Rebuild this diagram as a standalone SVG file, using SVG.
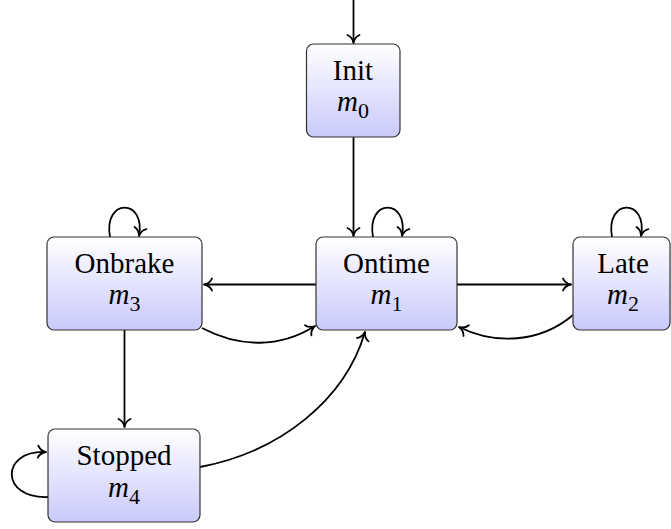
<svg xmlns="http://www.w3.org/2000/svg" width="671" height="529" viewBox="0 0 671 529">
<defs>
<linearGradient id="g" x1="0" y1="0" x2="0" y2="1">
<stop offset="0" stop-color="#ffffff"/>
<stop offset="1" stop-color="#c9c9fb"/>
</linearGradient>
<marker id="arr" markerUnits="userSpaceOnUse" markerWidth="16" markerHeight="16" viewBox="-10 -8 12 16" refX="0" refY="0" orient="auto">
<path d="M -8,-6 C -6.5,-2.5 -3,-0.6 0,0 C -3,0.6 -6.5,2.5 -8,6" fill="none" stroke="#000" stroke-width="1.8" stroke-linecap="round" stroke-linejoin="round"/>
</marker>
</defs>
<rect width="671" height="529" fill="#fff"/>
<g id="connectors" fill="none" stroke="#000" stroke-width="1.8" marker-end="url(#arr)">
<path d="M353.5,0 L353.5,43"/>
<path d="M353.5,137 L353.5,236"/>
<path d="M373,237 C 366,198 409,198 402,236"/>
<path d="M316,284.5 L204,284.5"/>
<path d="M202,328 C 240,348 280,348 315,326"/>
<path d="M457,284.5 L571,284.5"/>
<path d="M573,315 C 540,343 495,345 459,327"/>
<path d="M612,237 C 605,198 648,198 641,236"/>
<path d="M110,237 C 103,198 146,198 139,236"/>
<path d="M124.5,330 L124.5,427"/>
<path d="M48,497 C 0,499 0,450 46,452"/>
<path d="M200,467 C 280,452 345,400 365,332"/>
</g>
<g id="init">
<rect fill="url(#g)" stroke="#333" stroke-width="1.2" x="306.5" y="44" width="93.5" height="93" rx="7"/>
<text font-family="Liberation Serif" font-size="29" text-anchor="middle" x="353" y="79.5">Init</text>
<text font-family="Liberation Serif" font-size="29" text-anchor="middle" x="353" y="111"><tspan font-style="italic">m</tspan><tspan font-size="22" dy="7">0</tspan></text>
</g>
<g id="ontime">
<rect fill="url(#g)" stroke="#333" stroke-width="1.2" x="316" y="237" width="141" height="93" rx="7"/>
<text font-family="Liberation Serif" font-size="29" text-anchor="middle" x="386.5" y="272.5">Ontime</text>
<text font-family="Liberation Serif" font-size="29" text-anchor="middle" x="386.5" y="304"><tspan font-style="italic">m</tspan><tspan font-size="22" dy="7">1</tspan></text>
</g>
<g id="late">
<rect fill="url(#g)" stroke="#333" stroke-width="1.2" x="573" y="237" width="97" height="93" rx="7"/>
<text font-family="Liberation Serif" font-size="29" text-anchor="middle" x="623" y="272.5">Late</text>
<text font-family="Liberation Serif" font-size="29" text-anchor="middle" x="623" y="304"><tspan font-style="italic">m</tspan><tspan font-size="22" dy="7">2</tspan></text>
</g>
<g id="onbrake">
<rect fill="url(#g)" stroke="#333" stroke-width="1.2" x="47" y="237" width="155" height="93" rx="7"/>
<text font-family="Liberation Serif" font-size="29" text-anchor="middle" x="124.5" y="272.5">Onbrake</text>
<text font-family="Liberation Serif" font-size="29" text-anchor="middle" x="124.5" y="304"><tspan font-style="italic">m</tspan><tspan font-size="22" dy="7">3</tspan></text>
</g>
<g id="stopped">
<rect fill="url(#g)" stroke="#333" stroke-width="1.2" x="48" y="429" width="152" height="93" rx="7"/>
<text font-family="Liberation Serif" font-size="29" text-anchor="middle" x="124" y="465">Stopped</text>
<text font-family="Liberation Serif" font-size="29" text-anchor="middle" x="124" y="496.5"><tspan font-style="italic">m</tspan><tspan font-size="22" dy="7">4</tspan></text>
</g>
</svg>
